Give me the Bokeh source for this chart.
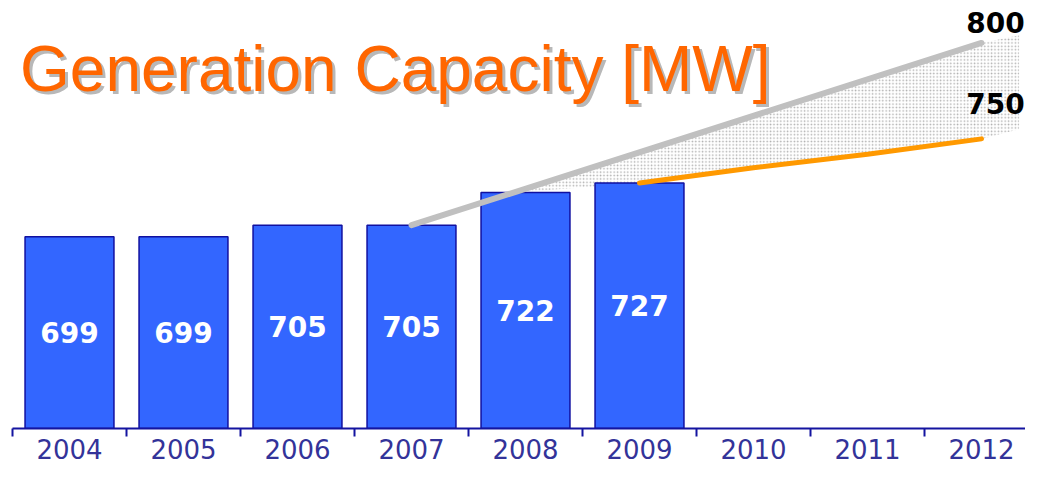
import numpy as np
from bokeh.plotting import figure
from bokeh.models import Range1d, FixedTicker, ColumnDataSource
from bokeh.core.properties import value
from bokeh.embed import file_html
from bokeh.resources import INLINE

# ---- data ----
years = ["2004", "2005", "2006", "2007", "2008", "2009", "2010", "2011", "2012"]
bar_years = ["2004", "2005", "2006", "2007", "2008", "2009"]
capacity = [699, 699, 705, 705, 722, 727]
high_years = ["2007", "2012"]
high_values = [705, 800]
low_years = ["2009", "2010", "2011", "2012"]
low_values = [727, 735, 742, 750]
title_text = "Generation Capacity [MW]"

# ---- layout ----
W, H = 1025, 465
LEFT, BOTTOM = 12, 37
PX_PER_CAT = 114.0
PX_PER_MW = 1.918
y_base = 599
frame_h = H - BOTTOM
frame_w = W - LEFT
y_top = y_base + frame_h / PX_PER_MW
pos = {y: i + 0.5 for i, y in enumerate(years)}

def px_to_x(px):
    return (px - LEFT) / PX_PER_CAT

def px_to_y(py):
    return y_base + (frame_h - py) / PX_PER_MW

p = figure(width=W, height=H,
           x_range=Range1d(0, frame_w / PX_PER_CAT), y_range=Range1d(y_base, y_top),
           output_backend="svg", toolbar_location=None,
           y_axis_location=None,
           min_border_left=LEFT, min_border_right=0, min_border_top=0,
           min_border_bottom=BOTTOM)
p.xgrid.visible = False
p.ygrid.visible = False
p.outline_line_color = None
p.background_fill_color = "white"
p.border_fill_color = "white"

# shaded forecast band between the high and low scenarios
gx = [pos[y] for y in high_years]
band_x = [pos["2008"] - 0.11] + [pos[y] for y in low_years] + [pos["2012"] + 0.33]
band_low = [0.0] + low_values + [low_values[-1] + 5]
band_high = list(np.interp(band_x[:-1], gx, high_values)) + [high_values[-1] + 4]
band_low[0] = band_high[0]
p.varea(x=band_x, y1=band_low, y2=band_high, fill_alpha=0.0,
        hatch_pattern="dot", hatch_color="#b0b0b0", hatch_scale=3.4,
        hatch_weight=2.2)

# bars
src = ColumnDataSource(dict(
    x=[pos[y] for y in bar_years],
    top=capacity,
    mid=[(y_base + v) / 2 for v in capacity],
    lab=[str(v) for v in capacity],
))
p.vbar(x="x", top="top", bottom=y_base, width=0.78, source=src,
       fill_color="#3366FF", line_color="#1010A0", line_width=1.5)
p.text(x="x", y="mid", text="lab", source=src, text_color="white",
       text_font=value("DejaVu Sans"), text_font_style="bold",
       text_font_size="28px", text_align="center", text_baseline="middle")

# scenario lines
p.line(x=gx, y=high_values, line_color="#C0C0C0", line_width=6,
       line_cap="round")
p.line(x=[pos[y] for y in low_years], y=low_values, line_color="#FF9900",
       line_width=5, line_cap="round")

# end labels
p.text(x=[pos["2012"]], y=[high_values[-1]], text=[str(high_values[-1])],
       x_offset=14, y_offset=-20, text_color="black",
       text_font=value("DejaVu Sans"), text_font_style="bold",
       text_font_size="28px", text_align="center", text_baseline="middle")
p.text(x=[pos["2012"]], y=[low_values[-1]], text=[str(low_values[-1])],
       x_offset=14, y_offset=-35, text_color="black",
       text_font=value("DejaVu Sans"), text_font_style="bold",
       text_font_size="28px", text_align="center", text_baseline="middle")

# title with drop shadow
tx, ty = px_to_x(19.5), px_to_y(68.5)
for dx, dy, col in [(3, 3, "#b8b8b8"), (0, 0, "#FF6600")]:
    p.text(x=[tx], y=[ty], text=[title_text], x_offset=dx, y_offset=dy,
           text_color=col, text_font=value("Liberation Sans"),
           text_font_size="64px", text_align="left",
           text_baseline="middle")

# x axis: labels at category centres, ticks at category boundaries
ax = p.xaxis[0]
ax.ticker = FixedTicker(ticks=[pos[y] for y in years],
                        minor_ticks=list(range(len(years) + 1)))
ax.major_label_overrides = {pos[y]: y for y in years}
ax.axis_line_color = "#1414A0"
ax.axis_line_width = 2
ax.major_tick_in = 0
ax.major_tick_out = 0
ax.minor_tick_in = 0
ax.minor_tick_out = 8
ax.minor_tick_line_color = "#1414A0"
ax.minor_tick_line_width = 2
ax.major_label_text_font = "DejaVu Sans"
ax.major_label_text_font_size = "26px"
ax.major_label_text_color = "#333399"
ax.major_label_standoff = 2

open("out.html", "w").write(file_html(p, INLINE))
